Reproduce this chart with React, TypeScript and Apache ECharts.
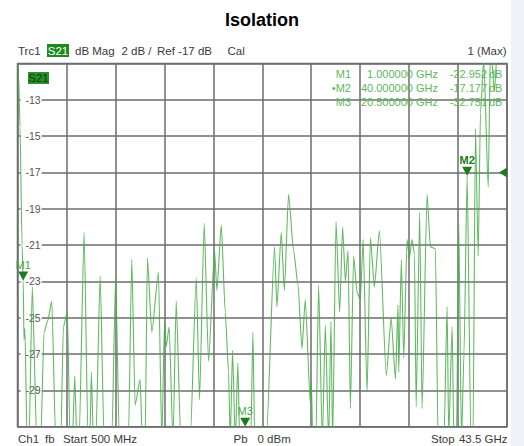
import React, { useEffect, useRef } from "react";
import * as echarts from "echarts";

// Trace S21 (GHz, dB); values below -31 dB run off the bottom of the screen
const tracePoints: [number, number][] = [
  [0.5, -10], [0.59, -11.5], [0.72, -14.5], [0.9, -21], [1.0, -22.952], [1.07, -26.2], [1.15, -25.6],
  [1.34, -31.8], [1.51, -31.8], [1.8, -23.3], [2.19, -31.8], [2.54, -31.8], [2.83, -25.8], [3.14, -25.2],
  [3.51, -24.1], [3.86, -31.8], [4.3, -31.8], [4.53, -25.5], [4.88, -24.7], [5.12, -31.8], [5.32, -31.8],
  [5.53, -28.2], [5.71, -31.8], [5.91, -31.8], [6.35, -20.3], [6.7, -31.8], [6.85, -31.8], [6.99, -28.0],
  [7.17, -31.8], [7.38, -31.8], [7.76, -22.7], [8.11, -31.8], [8.78, -31.8], [9.12, -22.8], [9.45, -31.8],
  [10.24, -31.8], [10.54, -21.8], [10.83, -29.8], [11.27, -28.4], [11.47, -31.8], [11.71, -31.8],
  [11.91, -21.7], [12.3, -25.8], [12.88, -22.5], [13.18, -31.8], [13.41, -25.3], [13.56, -26.6],
  [13.82, -25.5], [14.16, -31.8], [14.44, -24.1], [14.85, -31.8], [15.67, -31.8], [16.2, -22.8],
  [16.49, -29.5], [16.9, -19.8], [17.28, -27.4], [17.81, -21.3], [18.02, -23.5], [18.4, -19.9],
  [18.75, -24.7], [19.04, -28], [19.19, -31.8], [19.39, -26.8], [19.63, -31.8], [19.86, -27.5],
  [20.02, -31.8], [20.5, -32.751], [20.99, -31.8], [21.18, -25.8], [21.34, -31.8], [22.35, -31.8],
  [23.08, -21.1], [23.29, -24.4], [23.67, -20.3], [23.94, -23.5], [24.31, -18.2], [24.75, -21.3],
  [25.14, -23.2], [25.49, -26.7], [25.78, -24], [26.22, -29.7], [26.31, -28.4], [26.44, -31.8],
  [26.71, -31.8], [26.95, -23.2], [27.28, -31.8], [27.54, -25.4], [27.83, -31.8], [28.04, -25.2],
  [28.18, -31.8], [28.48, -19.7], [28.8, -24.7], [29.06, -20.0], [29.3, -23], [29.54, -21.3],
  [29.74, -30], [30.03, -21.6], [30.33, -23.6], [30.62, -24.0], [30.86, -20.7], [31.21, -29.1],
  [31.5, -20.6], [31.85, -23.3], [32.29, -20.2], [32.9, -28.2], [33.32, -25.0], [33.7, -28.4],
  [33.93, -24.3], [33.99, -28], [34.22, -21.8], [34.43, -27.2], [34.72, -20.7], [34.93, -21.7],
  [35.16, -20.7], [35.37, -21.5], [35.52, -29.9], [35.83, -19.2], [36.04, -30], [36.48, -18.2],
  [36.77, -21.1], [37.21, -21.2], [37.45, -31.8], [37.96, -31.8], [38.24, -24.4], [38.38, -31.5],
  [38.68, -25.5], [38.84, -31.8], [39.06, -31.8], [39.26, -19.8], [39.5, -31.8], [39.72, -27],
  [40.0, -17.177], [40.33, -31.8], [40.51, -31.8], [40.73, -14.6], [40.97, -21.6], [41.17, -13.7],
  [41.46, -10.8], [41.85, -17.8], [42.05, -10], [42.4, -12.5], [42.67, -10], [43.5, -10],
];

const markerNames = ["M1", "M2", "M3"];
const markerFreqs = [1.0, 40.0, 20.5];
const markerValues = [-22.952, -17.177, -32.751];
const markerFreqText = ["1.000000 GHz", "40.000000 GHz", "20.500000 GHz"];
const markerValText = ["-22.952", "-17.177", "-32.751"];

const refLevel = -17;
const yMin = -31;
const yMax = -11;
const xStart = 0.5;
const xStop = 43.5;
const yTickLabels = ["-31", "-29", "-27", "-25", "-23", "-21", "-19", "-17", "-15", "-13", "-11"];
const xDivisions = ["0", "1", "2", "3", "4", "5", "6", "7", "8", "9", "10"];

const FONT = "Liberation Sans, Arial, sans-serif";
const HDR = "#3a3a3a";
const TABLE = "#5cb85c";

export default function App() {
  const ref = useRef<HTMLDivElement>(null);
  useEffect(() => {
    if (!ref.current) return;
    const chart = echarts.init(ref.current, undefined, { renderer: "svg" });
    const gridLine = { color: "#6c6c6c", width: 1.5 };
    const lastIdx = yTickLabels.length - 1;

    const txt = (x: number, y: number, text: string, extra: any = {}) => ({
      type: "text",
      x,
      y,
      silent: true,
      style: {
        text,
        fontFamily: FONT,
        fontSize: 11.5,
        fill: HDR,
        textVerticalAlign: "middle",
        ...extra,
      },
    });

    const tableRows: any[] = [];
    markerNames.forEach((n, i) => {
      const y = 74 + i * 14;
      const st = { fill: TABLE, fontSize: 11 };
      tableRows.push(txt(351, y, (i === 1 ? "•" : "") + n, { align: "right", ...st }));
      tableRows.push(txt(438, y, markerFreqText[i], { align: "right", ...st }));
      tableRows.push(txt(487, y, markerValText[i], { align: "right", ...st }));
      tableRows.push(txt(489, y, "dB", { align: "left", ...st }));
    });

    chart.setOption({
      animation: false,
      grid: {
        left: 17.5,
        right: 17,
        top: 63.5,
        bottom: 19.3,
        show: true,
        borderColor: "#6c6c6c",
        borderWidth: 1.5,
        backgroundColor: "#fff",
      },
      xAxis: [
        { type: "value", min: xStart, max: xStop, show: false },
        {
          type: "category",
          data: xDivisions,
          boundaryGap: false,
          position: "bottom",
          axisLine: { show: false },
          axisTick: { show: false },
          axisLabel: { show: false },
          splitLine: { show: true, interval: 0, lineStyle: gridLine },
        },
      ],
      yAxis: [
        { type: "value", min: yMin, max: yMax, show: false },
        {
          type: "category",
          data: yTickLabels,
          position: "left",
          boundaryGap: false,
          axisLine: { show: false },
          axisTick: { show: false },
          splitLine: { show: true, interval: 0, lineStyle: gridLine },
          axisLabel: {
            inside: true,
            interval: 0,
            margin: 3,
            formatter: (v: string, i: number) => (i === 0 || i === lastIdx ? "" : "{b|" + v + "}"),
            rich: {
              b: {
                backgroundColor: "#fff",
                padding: [1, 1, 1, 5],
                color: "#555",
                fontSize: 10.5,
                fontFamily: FONT,
              },
            },
          },
        },
      ],
      series: [
        {
          type: "line",
          xAxisIndex: 0,
          yAxisIndex: 0,
          data: tracePoints,
          showSymbol: false,
          clip: true,
          smooth: 0.2,
          smoothMonotone: "x",
          lineStyle: { color: "#45ad45", width: 1.1, opacity: 0.85 },
          z: 3,
        },
        {
          type: "scatter",
          xAxisIndex: 0,
          yAxisIndex: 0,
          clip: false,
          z: 5,
          symbol: "path://M0,0 L10,0 L5,9 Z",
          symbolSize: [10, 9],
          symbolOffset: [0, -4.5],
          itemStyle: { color: "#1d7a1d", opacity: 1 },
          label: {
            show: true,
            position: "top",
            distance: 1,
            formatter: "{b}",
            color: "#4aa84a",
            fontSize: 11,
            fontFamily: FONT,
          },
          data: markerNames.map((n, i) => ({
            name: n,
            value: [markerFreqs[i], Math.max(markerValues[i], yMin)],
            label: i === 1 ? { fontWeight: "bold", color: "#237a23" } : {},
          })),
        },
        {
          type: "scatter",
          xAxisIndex: 0,
          yAxisIndex: 0,
          clip: false,
          z: 5,
          symbol: "path://M8,0 L8,10 L0,5 Z",
          symbolSize: [8, 10],
          symbolOffset: [-4, 0],
          itemStyle: { color: "#1d7a1d", opacity: 1 },
          data: [[xStop, refLevel]],
        },
      ],
      graphic: [
        { type: "rect", silent: true, shape: { x: 511, y: 0, width: 13, height: 446 }, style: { fill: "#eef2f6" } },
        txt(262, 20, "Isolation", { align: "center", fontSize: 18, fontWeight: "bold", fill: "#000" }),
        txt(18, 51, "Trc1"),
        { type: "rect", silent: true, shape: { x: 47, y: 44, width: 22, height: 13 }, style: { fill: "#1f8a1f" } },
        txt(58, 51, "S21", { align: "center", fill: "#fff" }),
        txt(75, 51, "dB Mag"),
        txt(121.5, 51, "2 dB /"),
        txt(157, 51, "Ref -17 dB"),
        txt(227.5, 51, "Cal"),
        txt(506.5, 51, "1 (Max)", { align: "right" }),
        { type: "rect", silent: true, z: 10, shape: { x: 28, y: 72, width: 21, height: 12 }, style: { fill: "#2a8f2a" } },
        { ...txt(38.5, 78, "S21", { align: "center", fill: "#0b3d0b", fontSize: 11.5 }), z: 11 },
        ...tableRows.map((t) => ({ ...t, z: 10 })),
        txt(18, 438.5, "Ch1"),
        txt(45, 438.5, "fb"),
        txt(63, 438.5, "Start"),
        txt(91, 438.5, "500 MHz"),
        txt(233.5, 438.5, "Pb"),
        txt(257.5, 438.5, "0 dBm"),
        txt(431, 438.5, "Stop"),
        txt(507.5, 438.5, "43.5 GHz", { align: "right" }),
      ],
    });
    return () => chart.dispose();
  }, []);
  return (
    <div
      ref={ref}
      style={{ position: "fixed", left: 0, top: 0, width: 524, height: 446, background: "#fff" }}
    />
  );
}
